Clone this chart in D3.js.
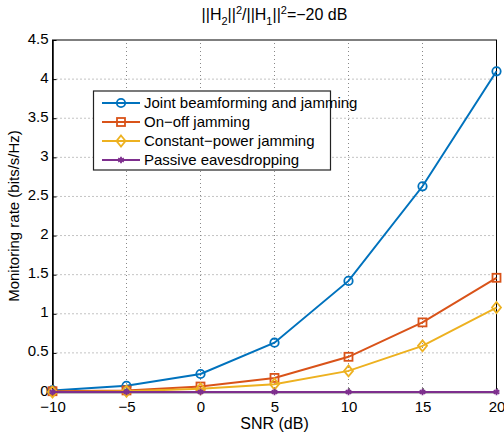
<!DOCTYPE html>
<html>
<head>
<meta charset="utf-8">
<script src="https://cdn.jsdelivr.net/npm/d3@7"></script>
<style>
  body { margin: 0; background: #fff; }
  text { font-family: "Liberation Sans", Arial, sans-serif; }
</style>
</head>
<body>
<script>
const snr = [-10, -5, 0, 5, 10, 15, 20];
const jointRate = [0.02, 0.08, 0.23, 0.63, 1.42, 2.63, 4.10];
const onOffRate = [0.01, 0.02, 0.07, 0.18, 0.45, 0.89, 1.46];
const constRate = [0.00, 0.01, 0.04, 0.10, 0.27, 0.59, 1.08];
const passiveRate = [0, 0, 0, 0, 0, 0, 0];
const seriesNames = ['Joint beamforming and jamming', 'On\u2212off jamming', 'Constant\u2212power jamming', 'Passive eavesdropping'];
const xTicks = [-10, -5, 0, 5, 10, 15, 20];
const yTicks = [0, 0.5, 1, 1.5, 2, 2.5, 3, 3.5, 4, 4.5];

const W = 504, H = 435;
const M = { left: 52.5, top: 40, right: 7.5, bottom: 43 };

const series = [
  { name: seriesNames[0], values: jointRate, color: '#0072BD', marker: 'circle' },
  { name: seriesNames[1], values: onOffRate, color: '#D95319', marker: 'square' },
  { name: seriesNames[2], values: constRate, color: '#EDB120', marker: 'diamond' },
  { name: seriesNames[3], values: passiveRate, color: '#7E2F8E', marker: 'star' }
];

const svg = d3.select('body').append('svg').attr('width', W).attr('height', H);

const x = d3.scaleLinear().domain([-10, 20]).range([M.left, W - M.right]);
const y = d3.scaleLinear().domain([0, 4.5]).range([H - M.bottom, M.top]);

// grid
svg.append('g').selectAll('line').data(xTicks.slice(1, -1)).enter().append('line')
  .attr('x1', d => x(d)).attr('x2', d => x(d))
  .attr('y1', y(0)).attr('y2', y(4.5))
  .attr('stroke', '#888').attr('stroke-width', 1).attr('stroke-dasharray', '1,3');
svg.append('g').selectAll('line').data(yTicks.slice(1, -1)).enter().append('line')
  .attr('x1', x(-10)).attr('x2', x(20))
  .attr('y1', d => y(d)).attr('y2', d => y(d))
  .attr('stroke', '#888').attr('stroke-width', 1).attr('stroke-dasharray', '1,3');

// box
svg.append('rect')
  .attr('x', x(-10)).attr('y', y(4.5))
  .attr('width', x(20) - x(-10)).attr('height', y(0) - y(4.5))
  .attr('fill', 'none').attr('stroke', '#000').attr('stroke-width', 1);

// axes
const xAxis = d3.axisBottom(x).tickValues(xTicks).tickSize(-4).tickSizeOuter(0)
  .tickFormat(d => d < 0 ? '\u2212' + Math.abs(d) : d);
const yAxis = d3.axisLeft(y).tickValues(yTicks).tickSize(-4).tickSizeOuter(0)
  .tickFormat(d => d);

const gx = svg.append('g').attr('transform', 'translate(0,' + y(0) + ')').call(xAxis);
gx.select('.domain').attr('stroke', '#000').attr('stroke-width', 1.5);
gx.selectAll('text').attr('dy', '0.85em').attr('y', 7).style('font-size', '15px').attr('fill', '#000');

const gy = svg.append('g').attr('transform', 'translate(' + x(-10) + ',0)').call(yAxis);
gy.select('.domain').attr('stroke', '#000').attr('stroke-width', 1.5);
gy.selectAll('text').attr('x', -4).attr('dy', '0.2em').style('font-size', '15px').attr('fill', '#000');

// labels
svg.append('text').attr('x', (x(-10) + x(20)) / 2).attr('y', 429)
  .attr('text-anchor', 'middle').style('font-size', '16px').text('SNR (dB)');
svg.append('text').attr('transform', 'translate(19,' + ((y(0) + y(4.5)) / 2) + ') rotate(-90)')
  .attr('text-anchor', 'middle').style('font-size', '15px').text('Monitoring rate (bits/s/Hz)');

const title = svg.append('text').attr('x', (x(-10) + x(20)) / 2).attr('y', 20)
  .attr('text-anchor', 'middle').style('font-size', '16px');
title.append('tspan').text('||H');
title.append('tspan').attr('dy', 5).style('font-size', '11px').text('2');
title.append('tspan').attr('dy', -5).text('||');
title.append('tspan').attr('dy', -6).style('font-size', '11px').text('2');
title.append('tspan').attr('dy', 6).text('/||H');
title.append('tspan').attr('dy', 5).style('font-size', '11px').text('1');
title.append('tspan').attr('dy', -5).text('||');
title.append('tspan').attr('dy', -6).style('font-size', '11px').text('2');
title.append('tspan').attr('dy', 6).text('=\u221220 dB');

function drawMarker(g, type, cx, cy, color) {
  if (type === 'circle') {
    g.append('circle').attr('cx', cx).attr('cy', cy).attr('r', 4.2)
      .attr('fill', 'none').attr('stroke', color).attr('stroke-width', 1.8);
  } else if (type === 'square') {
    g.append('rect').attr('x', cx - 4).attr('y', cy - 4).attr('width', 8).attr('height', 8)
      .attr('fill', 'none').attr('stroke', color).attr('stroke-width', 1.8);
  } else if (type === 'diamond') {
    g.append('path').attr('d', `M${cx},${cy - 5.5}L${cx + 4.5},${cy}L${cx},${cy + 5.5}L${cx - 4.5},${cy}Z`)
      .attr('fill', 'none').attr('stroke', color).attr('stroke-width', 1.8);
  } else {
    g.append('path').attr('transform', `translate(${cx},${cy})`)
      .attr('d', d3.symbol().type(d3.symbolAsterisk).size(30)())
      .attr('fill', 'none').attr('stroke', color).attr('stroke-width', 1.8);
  }
}

const line = d3.line().x((d, i) => x(snr[i])).y(d => y(d));

series.forEach(s => {
  const g = svg.append('g');
  g.append('path').datum(s.values).attr('d', line)
    .attr('fill', 'none').attr('stroke', s.color).attr('stroke-width', 2);
  s.values.forEach((v, i) => drawMarker(g, s.marker, x(snr[i]), y(v), s.color));
});

// legend
const lg = svg.append('g');
lg.append('rect').attr('x', 93.5).attr('y', 91).attr('width', 237).attr('height', 79)
  .attr('fill', '#fff').attr('stroke', '#222').attr('stroke-width', 1.2);
series.forEach((s, i) => {
  const ly = 103 + i * 19;
  lg.append('line').attr('x1', 102).attr('x2', 140).attr('y1', ly).attr('y2', ly)
    .attr('stroke', s.color).attr('stroke-width', 2);
  drawMarker(lg, s.marker, 121, ly, s.color);
  lg.append('text').attr('x', 144).attr('y', ly + 5).style('font-size', '15px').text(s.name);
});
</script>
</body>
</html>
